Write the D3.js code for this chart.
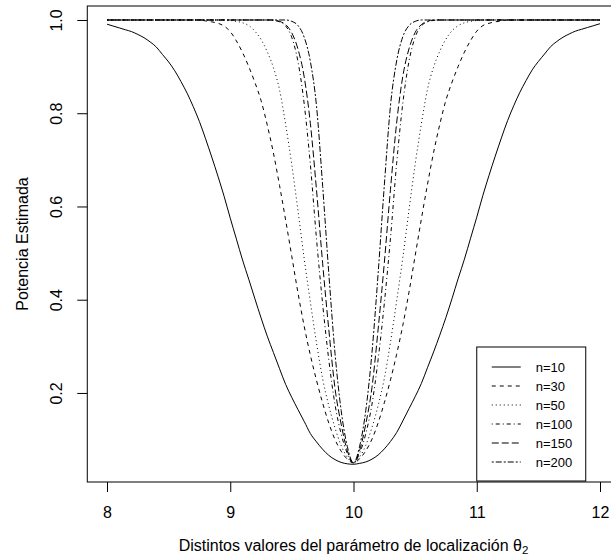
<!DOCTYPE html>
<html>
<head>
<meta charset="utf-8">
<script src="https://cdn.jsdelivr.net/npm/d3@7"></script>
<style>
  body { margin: 0; background: #fff; }
  text { font-family: "Liberation Sans", Arial, sans-serif; }
</style>
</head>
<body>
<div id="chart"></div>
<script>
// grid of theta values
const theta = [8.00,8.05,8.10,8.15,8.20,8.25,8.30,8.35,8.40,8.45,8.50,8.55,8.60,8.65,8.70,8.75,8.80,8.85,8.90,8.95,
  9.00,9.05,9.10,9.15,9.20,9.25,9.30,9.35,9.40,9.45,9.50,9.55,9.60,9.65,9.70,9.75,9.80,9.85,9.90,9.95,
  10.00,10.05,10.10,10.15,10.20,10.25,10.30,10.35,10.40,10.45,10.50,10.55,10.60,10.65,10.70,10.75,10.80,10.85,10.90,10.95,
  11.00,11.05,11.10,11.15,11.20,11.25,11.30,11.35,11.40,11.45,11.50,11.55,11.60,11.65,11.70,11.75,11.80,11.85,11.90,11.95,12.00];

// estimated power for each sample size
const pow10 = [0.991,0.987,0.983,0.979,0.975,0.969,0.962,0.953,0.942,0.926,0.910,0.891,0.868,0.843,0.814,0.782,0.745,0.706,0.665,0.622,
  0.575,0.530,0.485,0.444,0.402,0.361,0.322,0.287,0.252,0.218,0.190,0.164,0.139,0.113,0.095,0.079,0.066,0.057,0.051,0.048,
  0.047,
  0.049,0.052,0.058,0.067,0.080,0.096,0.115,0.140,0.166,0.192,0.220,0.254,0.288,0.324,0.362,0.403,0.446,0.487,0.532,0.577,
  0.624,0.667,0.708,0.747,0.784,0.816,0.845,0.870,0.893,0.911,0.927,0.943,0.954,0.963,0.970,0.976,0.980,0.984,0.988,0.992];
const pow30 = [1,1,1,1,1,1,1,1,1,1,1,1,1,1,1,1,
  0.998,0.996,0.993,0.987,0.975,0.955,0.930,0.900,0.866,0.827,0.775,0.715,0.645,0.570,0.492,0.414,0.343,0.281,0.227,0.178,0.135,0.100,0.075,0.058,
  0.050,
  0.059,0.076,0.101,0.136,0.179,0.228,0.283,0.345,0.416,0.494,0.572,0.647,0.716,0.776,0.828,0.867,0.901,0.931,0.956,0.976,0.988,0.993,0.996,0.998,
  1,1,1,1,1,1,1,1,1,1,1,1,1,1,1,1];
const pow50 = [1,1,1,1,1,1,1,1,1,1,1,1,1,1,1,1,1,1,1,1,
  0.999,0.997,0.994,0.988,0.976,0.958,0.932,0.898,0.850,0.775,0.688,0.590,0.488,0.395,0.307,0.230,0.172,0.125,0.087,0.062,
  0.050,
  0.063,0.088,0.126,0.173,0.231,0.309,0.397,0.490,0.592,0.690,0.776,0.851,0.899,0.933,0.959,0.977,0.988,0.994,0.997,0.999,
  1,1,1,1,1,1,1,1,1,1,1,1,1,1,1,1,1,1,1,1];
const pow100 = [1,1,1,1,1,1,1,1,1,1,1,1,1,1,1,1,1,1,1,1,1,1,1,1,1,1,1,
  0.999,0.996,0.987,0.962,0.910,0.820,0.690,0.530,0.390,0.270,0.175,0.112,0.070,
  0.050,
  0.071,0.113,0.176,0.272,0.392,0.532,0.692,0.821,0.911,0.963,0.987,0.996,0.999,
  1,1,1,1,1,1,1,1,1,1,1,1,1,1,1,1,1,1,1,1,1,1,1,1,1,1,1];
const pow150 = [1,1,1,1,1,1,1,1,1,1,1,1,1,1,1,1,1,1,1,1,1,1,1,1,1,1,1,1,
  0.997,0.990,0.972,0.937,0.878,0.778,0.635,0.477,0.335,0.210,0.133,0.076,
  0.050,
  0.077,0.134,0.212,0.337,0.479,0.637,0.779,0.879,0.938,0.973,0.990,0.997,
  1,1,1,1,1,1,1,1,1,1,1,1,1,1,1,1,1,1,1,1,1,1,1,1,1,1,1,1];
const pow200 = [1,1,1,1,1,1,1,1,1,1,1,1,1,1,1,1,1,1,1,1,1,1,1,1,1,1,1,1,1,1,
  0.997,0.988,0.963,0.911,0.815,0.643,0.455,0.285,0.162,0.085,
  0.050,
  0.086,0.163,0.287,0.457,0.645,0.816,0.912,0.964,0.988,0.997,
  1,1,1,1,1,1,1,1,1,1,1,1,1,1,1,1,1,1,1,1,1,1,1,1,1,1,1,1,1,1];

const seriesNames = ["n=10", "n=30", "n=50", "n=100", "n=150", "n=200"];
const seriesValues = [pow10, pow30, pow50, pow100, pow150, pow200];
// R line types: solid, dashed, dotted, dotdash, longdash, twodash
const dashes = [null, "4,4", "1,3", "1,3,4,3", "7,3", "2,2,6,2"];

const xTicks = [8, 9, 10, 11, 12];
const yTicks = [0.2, 0.4, 0.6, 0.8, 1.0];

const W = 611, H = 558;
const fontSize = 16, legendFont = 13;

const svg = d3.select("#chart")
    .append("svg")
    .attr("width", W)
    .attr("height", H);

// scales (R style: padding around the data range)
const x = d3.scaleLinear().domain([8, 12]).range([107, 600]);
const y = d3.scaleLinear().domain([0.009, 1.030]).range([482, 6]);

// plot box
svg.append("rect")
    .attr("x", x(7.84))
    .attr("y", y(1.030))
    .attr("width", x(12.16) - x(7.84))
    .attr("height", y(0.009) - y(1.030))
    .attr("fill", "none")
    .attr("stroke", "#000");

// X axis
svg.append("g")
    .attr("transform", `translate(0, ${y(0.009)})`)
    .call(d3.axisBottom(x).tickValues(xTicks).tickSize(10).tickFormat(d3.format("d")))
    .call(g => g.select(".domain").remove())
    .selectAll("text")
    .attr("y", 25)
    .attr("font-size", fontSize)
    .attr("font-family", null)
    .attr("fill", "#000");

// Y axis
svg.append("g")
    .attr("transform", `translate(${x(7.84)}, 0)`)
    .call(d3.axisLeft(y).tickValues(yTicks).tickSize(10).tickFormat(d3.format(".1f")))
    .call(g => g.select(".domain").remove())
    .selectAll("text")
    .attr("x", 0)
    .attr("dy", null)
    .attr("transform", "translate(-25,0) rotate(-90)")
    .attr("text-anchor", "middle")
    .attr("font-size", fontSize)
    .attr("font-family", null)
    .attr("fill", "#000");

svg.selectAll(".tick line").attr("stroke", "#000");

// axis titles
const xt = svg.append("text")
    .attr("x", (x(7.84) + x(12.16)) / 2)
    .attr("y", 551)
    .attr("text-anchor", "middle")
    .attr("font-size", fontSize);
xt.append("tspan").text("Distintos valores del parámetro de localización θ");
xt.append("tspan").attr("font-size", 11.5).attr("dy", 3).text("2");

svg.append("text")
    .attr("transform", `translate(28, ${(y(0.009) + y(1.030)) / 2}) rotate(-90)`)
    .attr("text-anchor", "middle")
    .attr("font-size", fontSize)
    .text("Potencia Estimada");

// curves
const line = d3.line()
    .x((d, i) => x(theta[i]))
    .y(d => y(d))
    .curve(d3.curveMonotoneX);

svg.selectAll("path.curve")
    .data(seriesValues)
    .join("path")
    .attr("class", "curve")
    .attr("d", d => line(d))
    .attr("fill", "none")
    .attr("stroke", "#000")
    .attr("stroke-width", 1)
    .attr("stroke-dasharray", (d, i) => dashes[i]);

// legend
const legX = x(11), legY = 347, legW = 109, rowH = 19;
const leg = svg.append("g");
leg.append("rect")
    .attr("x", legX)
    .attr("y", legY)
    .attr("width", legW)
    .attr("height", rowH * seriesNames.length + 20)
    .attr("fill", "#fff")
    .attr("stroke", "#000");

const rows = leg.selectAll("g.row")
    .data(seriesNames)
    .join("g")
    .attr("class", "row")
    .attr("transform", (d, i) => `translate(${legX}, ${legY + 20 + i * rowH})`);
rows.append("line")
    .attr("x1", 15).attr("x2", 44)
    .attr("stroke", "#000")
    .attr("stroke-dasharray", (d, i) => dashes[i]);
rows.append("text")
    .attr("x", 59)
    .attr("dy", "0.35em")
    .attr("font-size", legendFont)
    .text(d => d);
</script>
</body>
</html>
